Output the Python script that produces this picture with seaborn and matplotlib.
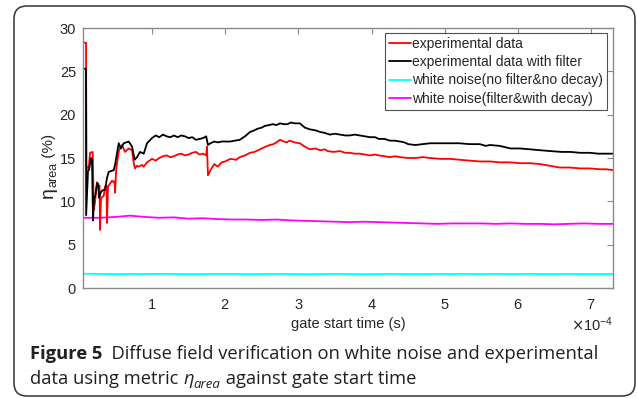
import numpy as np
import pandas as pd
import seaborn as sns
import matplotlib
matplotlib.use("Agg")
import matplotlib.pyplot as plt
from matplotlib.patches import FancyBboxPatch
from matplotlib.ticker import ScalarFormatter, FixedLocator

# ---------------------------------------------------------------- data
# gate start time in units of 1e-4 s, metric eta_area in %
t_exp = [0.057, 0.098, 0.105, 0.126, 0.139, 0.153, 0.190, 0.204, 0.221, 0.249,
         0.272, 0.283, 0.290, 0.303, 0.317, 0.340, 0.358, 0.378, 0.385, 0.399,
         0.454, 0.477, 0.488, 0.495, 0.510, 0.522, 0.549, 0.590, 0.631, 0.682,
         0.727, 0.750, 0.768, 0.795, 0.818, 0.863, 0.887, 0.932, 1.00, 1.05,
         1.10, 1.15, 1.20, 1.25, 1.30, 1.35, 1.40, 1.45, 1.50, 1.55,
         1.60, 1.65, 1.70, 1.74, 1.751, 1.765, 1.80, 1.85, 1.90, 1.95,
         2.00, 2.07, 2.15, 2.20, 2.27, 2.34, 2.40, 2.45, 2.50, 2.55,
         2.61, 2.66, 2.70, 2.75, 2.80, 2.84, 2.88, 2.95, 3.02, 3.09,
         3.16, 3.23, 3.30, 3.36, 3.40, 3.48, 3.57, 3.64, 3.70, 3.77,
         3.84, 3.91, 3.98, 4.05, 4.10, 4.18, 4.25, 4.32, 4.39, 4.50,
         4.60, 4.70, 4.80, 4.94, 5.07, 5.20, 5.34, 5.48, 5.62, 5.75,
         5.89, 6.03, 6.17, 6.30, 6.44, 6.57, 6.71, 6.85, 6.98, 7.12,
         7.21, 7.30]
eta_exp = [28.3, 28.3, 14.0, 13.8, 14.2, 15.6, 15.7, 9.0, 9.9, 12.2,
           11.7, 11.8, 6.7, 10.3, 10.5, 10.6, 11.7, 11.8, 7.5, 11.7,
           12.4, 12.2, 12.3, 11.0, 13.6, 14.4, 15.9, 16.5, 15.7, 16.1,
           15.9, 14.4, 13.8, 14.1, 14.0, 14.2, 14.0, 14.5, 14.9, 14.7,
           15.0, 15.2, 15.3, 15.1, 15.2, 15.4, 15.5, 15.3, 15.4, 15.6,
           15.7, 15.4, 15.5, 15.3, 16.3, 13.0, 13.6, 14.3, 14.0, 14.5,
           14.6, 14.9, 14.8, 15.1, 15.3, 15.6, 15.7, 15.9, 16.1, 16.3,
           16.5, 16.6, 16.8, 17.1, 16.9, 16.8, 17.0, 16.8, 16.7, 16.3,
           16.0, 16.1, 15.9, 16.0, 15.8, 15.7, 15.8, 15.6, 15.6, 15.5,
           15.5, 15.4, 15.3, 15.4, 15.3, 15.2, 15.1, 15.2, 15.1, 15.0,
           15.0, 15.1, 15.0, 14.9, 14.9, 14.8, 14.7, 14.6, 14.6, 14.5,
           14.5, 14.4, 14.4, 14.3, 14.1, 13.9, 13.9, 13.8, 13.8, 13.7,
           13.7, 13.6]

t_filt = [0.057, 0.098, 0.100, 0.126, 0.139, 0.167, 0.180, 0.194, 0.208, 0.221,
          0.249, 0.265, 0.276, 0.303, 0.331, 0.358, 0.385, 0.408, 0.477, 0.495,
          0.545, 0.576, 0.613, 0.682, 0.727, 0.764, 0.795, 0.836, 0.887, 0.932,
          1.00, 1.05, 1.10, 1.15, 1.20, 1.25, 1.30, 1.35, 1.40, 1.45,
          1.50, 1.55, 1.60, 1.65, 1.70, 1.74, 1.765, 1.80, 1.85, 1.90,
          1.95, 2.00, 2.07, 2.13, 2.20, 2.27, 2.34, 2.40, 2.45, 2.50,
          2.54, 2.60, 2.65, 2.70, 2.75, 2.80, 2.85, 2.90, 2.95, 3.02,
          3.09, 3.16, 3.23, 3.30, 3.36, 3.43, 3.50, 3.57, 3.64, 3.70,
          3.77, 3.84, 3.91, 3.98, 4.05, 4.10, 4.18, 4.25, 4.32, 4.39,
          4.45, 4.50, 4.60, 4.70, 4.80, 4.94, 5.07, 5.20, 5.34, 5.48,
          5.56, 5.62, 5.75, 5.90, 6.03, 6.17, 6.30, 6.44, 6.60, 6.72,
          6.85, 6.98, 7.10, 7.21, 7.30]
eta_filt = [25.3, 25.3, 8.4, 13.6, 13.6, 15.0, 14.8, 7.8, 10.5, 10.5,
            12.1, 12.0, 10.4, 11.1, 11.3, 11.3, 12.7, 13.4, 13.6, 14.2,
            16.7, 16.1, 16.7, 16.9, 16.3, 14.8, 15.1, 15.7, 15.5, 16.7,
            17.3, 17.6, 17.4, 17.7, 17.5, 17.4, 17.6, 17.4, 17.6, 17.5,
            17.3, 17.4, 17.1, 17.2, 17.3, 17.5, 16.5, 16.7, 16.9, 16.8,
            16.9, 16.9, 16.9, 17.0, 17.1, 17.5, 18.0, 18.2, 18.4, 18.5,
            18.7, 18.8, 18.9, 18.8, 19.0, 18.9, 18.9, 19.1, 19.0, 19.0,
            18.5, 18.3, 18.2, 18.0, 17.9, 17.7, 17.8, 17.7, 17.6, 17.6,
            17.7, 17.6, 17.5, 17.4, 17.4, 17.2, 17.2, 17.0, 17.0, 16.9,
            16.8, 16.6, 16.5, 16.6, 16.7, 16.7, 16.7, 16.7, 16.6, 16.6,
            16.4, 16.5, 16.4, 16.1, 16.1, 16.0, 15.9, 15.8, 15.7, 15.7,
            15.6, 15.6, 15.5, 15.5, 15.5]

t_noise = [0.057, 0.30, 0.50, 0.70, 0.90, 1.10, 1.30, 1.50, 1.70, 1.90,
           2.10, 2.30, 2.50, 2.70, 2.90, 3.10, 3.30, 3.50, 3.70, 3.90,
           4.10, 4.30, 4.50, 4.70, 4.90, 5.10, 5.30, 5.50, 5.70, 5.90,
           6.10, 6.30, 6.50, 6.70, 6.90, 7.10, 7.30]
eta_plain = [1.65, 1.62, 1.60, 1.62, 1.61, 1.63, 1.62, 1.60, 1.61, 1.62,
             1.62, 1.60, 1.61, 1.62, 1.61, 1.60, 1.61, 1.62, 1.61, 1.60,
             1.61, 1.62, 1.61, 1.61, 1.62, 1.61, 1.62, 1.61, 1.62, 1.61,
             1.62, 1.61, 1.61, 1.62, 1.61, 1.61, 1.62]
eta_decay = [8.10, 8.10, 8.20, 8.35, 8.20, 8.10, 8.15, 8.00, 8.05, 7.95,
             7.90, 7.90, 7.85, 7.90, 7.80, 7.75, 7.70, 7.65, 7.60, 7.65,
             7.60, 7.55, 7.50, 7.45, 7.40, 7.45, 7.45, 7.45, 7.40, 7.45,
             7.40, 7.40, 7.35, 7.40, 7.45, 7.40, 7.40]

series_names = ["experimental data", "experimental data with filter",
                "white noise(no filter&no decay)", "white noise(filter&with decay)"]
series_colors = ["#ff0000", "#000000", "#00ffff", "#ff00ff"]
x_ticks = [1, 2, 3, 4, 5, 6, 7]
y_ticks = [0, 5, 10, 15, 20, 25, 30]

UNIT = 1e-4
frames = []
for name, t, v in zip(series_names,
                      [t_exp, t_filt, t_noise, t_noise],
                      [eta_exp, eta_filt, eta_plain, eta_decay]):
    frames.append(pd.DataFrame({"t": np.asarray(t) * UNIT, "eta": v, "series": name}))
df = pd.concat(frames, ignore_index=True)

# ---------------------------------------------------------------- style
sns.set_theme(style="white")
plt.rcParams["font.family"] = ["Liberation Sans", "DejaVu Sans"]

W, H = 637, 398
fig = plt.figure(figsize=(W / 100, H / 100), dpi=100)
fig.patch.set_facecolor("white")

ax = fig.add_axes([83 / W, 1 - 288 / H, (613 - 83) / W, (288 - 28) / H])

# draw cyan and magenta first, measured data on top
order = [2, 3, 0, 1]
handles = {}
for i in order:
    sub = df[df["series"] == series_names[i]]
    sns.lineplot(data=sub, x="t", y="eta", ax=ax, color=series_colors[i],
                 lw=1.3, estimator=None, sort=False, legend=False)
    handles[i] = ax.lines[-1]

ax.set_xlim(0.057 * UNIT, 7.30 * UNIT)
ax.set_ylim(0, 30)
ax.xaxis.set_major_locator(FixedLocator(np.asarray(x_ticks) * UNIT))
ax.set_yticks(y_ticks)
fmt = ScalarFormatter(useMathText=True)
fmt.set_powerlimits((-4, -4))
ax.xaxis.set_major_formatter(fmt)

axis_grey = "#8a8a8a"
text_col = "#262626"
for s in ax.spines.values():
    s.set_color(axis_grey)
    s.set_linewidth(1.0)
    s.set_visible(True)
ax.tick_params(direction="in", length=4, width=0.8, color=axis_grey,
               top=True, right=True, labelsize=10.5, labelcolor=text_col)
ax.tick_params(axis="y", pad=5)
ax.tick_params(axis="x", pad=7)
ax.xaxis.get_offset_text().set_fontsize(10.5)
ax.xaxis.get_offset_text().set_color(text_col)

ax.set_xlabel("gate start time (s)", fontsize=10.5, color=text_col, labelpad=4)
ax.set_ylabel("")

leg = ax.legend([handles[i] for i in range(4)], series_names,
                loc="upper right", bbox_to_anchor=(0.9887, 0.9808),
                borderaxespad=0, fontsize=10, frameon=True, fancybox=False,
                handlelength=1.6, handletextpad=0.05, borderpad=0.3,
                labelspacing=0.3, edgecolor=text_col)
leg.get_frame().set_linewidth(0.8)
for t in leg.get_texts():
    t.set_color(text_col)

# ---------------------------------------------------------------- frame
frame = FancyBboxPatch((14 / 100, 2 / 100), (635 - 14) / 100, (396 - 6) / 100,
                       boxstyle="round,pad=0,rounding_size=0.13",
                       transform=fig.dpi_scale_trans, fill=False,
                       edgecolor="#333333", linewidth=1.1, zorder=0)
fig.patches.append(frame)

fig.canvas.draw()
renderer = fig.canvas.get_renderer()

# ---------------------------------------------------------------- y label
# eta with a subscript, written bottom-to-top from pieces of different size
def place_vertical(pieces, x_base, y_start):
    y = y_start
    for txt, size, dx in pieces:
        t = fig.text((x_base + dx) / W, 1 - y / H, txt, rotation=90,
                     rotation_mode="anchor", ha="left", va="baseline",
                     fontsize=size, color=text_col)
        bb = t.get_window_extent(renderer=renderer)
        y -= bb.height


place_vertical([("η", 14, 0), ("area", 9, 3.5), (" (%)", 11, 0)], 53, 198)

# ---------------------------------------------------------------- caption
cap_font = ["Open Sans", "DejaVu Sans"]
cap_col = "#231f20"
cap_size = 13.2


def place(pieces, x0, y0):
    """Lay text pieces out left to right starting at pixel (x0, y0 from top)."""
    x = x0
    for txt, kw, dy in pieces:
        t = fig.text(x / W, 1 - (y0 + dy) / H, txt, ha="left", va="baseline",
                     color=cap_col, family=cap_font, **kw)
        bb = t.get_window_extent(renderer=renderer)
        x += bb.width


place([("Figure 5", dict(fontsize=cap_size, fontweight="bold"), 0),
       ("  Diffuse field verification on white noise and experimental",
        dict(fontsize=cap_size), 0)], 30, 359)
place([("data using metric ", dict(fontsize=cap_size), 0),
       ("η", dict(fontsize=cap_size, style="italic"), 0),
       ("area", dict(fontsize=cap_size * 0.72, style="italic"), 4),
       (" against gate start time", dict(fontsize=cap_size), 0)], 30, 384)

fig.savefig("out.png", dpi=100)
